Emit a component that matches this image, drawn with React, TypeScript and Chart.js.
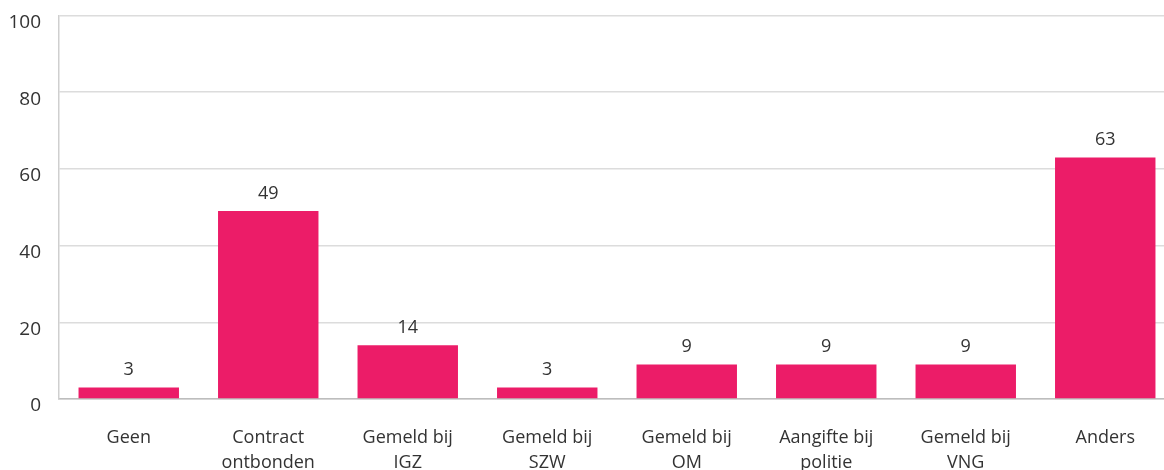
import React, { useEffect, useRef } from "react";
import { Chart, registerables } from "chart.js";

Chart.register(...registerables);

const categories: string[][] = [
  ["Geen"],
  ["Contract", "ontbonden"],
  ["Gemeld bij", "IGZ"],
  ["Gemeld bij", "SZW"],
  ["Gemeld bij", "OM"],
  ["Aangifte bij", "politie"],
  ["Gemeld bij", "VNG"],
  ["Anders"],
];
const values: number[] = [3, 49, 14, 3, 9, 9, 9, 63];
const yMin = 0;
const yMax = 100;
const yStep = 20;

const BAR_COLOR = "#ec1c68";
const TEXT_COLOR = "#333333";
const FONT_FAMILY = "'Open Sans', 'Noto Sans', sans-serif";

const valueLabelPlugin = {
  id: "valueLabels",
  afterDatasetsDraw(chart: any) {
    const ctx = chart.ctx;
    const meta = chart.getDatasetMeta(0);
    ctx.save();
    ctx.fillStyle = TEXT_COLOR;
    ctx.font = `18px ${FONT_FAMILY}`;
    ctx.textAlign = "center";
    ctx.textBaseline = "alphabetic";
    meta.data.forEach((bar: any, i: number) => {
      ctx.fillText(String(values[i]), bar.x, bar.y - 12);
    });
    ctx.restore();
  },
};

export default function App() {
  const ref = useRef<HTMLCanvasElement | null>(null);

  useEffect(() => {
    if (!ref.current) return;
    const chart = new Chart(ref.current, {
      type: "bar",
      data: {
        labels: categories,
        datasets: [
          {
            data: values,
            backgroundColor: BAR_COLOR,
            borderWidth: 0,
            categoryPercentage: 0.8,
            barPercentage: 0.9,
          },
        ],
      },
      options: {
        animation: false,
        responsive: false,
        maintainAspectRatio: false,
        layout: { padding: 0 },
        plugins: {
          legend: { display: false },
          tooltip: { enabled: false },
        },
        scales: {
          x: {
            grid: { display: false, drawTicks: false },
            border: { display: true, color: "#bdbdbd", width: 1.5 },
            ticks: {
              color: TEXT_COLOR,
              font: { family: FONT_FAMILY, size: 18, lineHeight: 1.42 },
              padding: 26,
              maxRotation: 0,
              autoSkip: false,
            },
            afterFit: (scale: any) => {
              scale.height = 75;
              scale.paddingLeft = 0;
              scale.paddingRight = 0;
            },
          },
          y: {
            min: yMin,
            max: yMax,
            grid: { color: "#dcdcdc", lineWidth: 1.5, drawTicks: false },
            border: { display: true, color: "#cfcfcf", width: 1.5 },
            ticks: {
              stepSize: yStep,
              color: TEXT_COLOR,
              font: { family: FONT_FAMILY, size: 19 },
              padding: 18,
              labelOffset: 7,
            },
            afterFit: (scale: any) => {
              scale.width = 51;
              scale.paddingTop = 7.5;
              scale.paddingBottom = 0;
            },
          },
        },
      },
      plugins: [valueLabelPlugin],
    });
    return () => chart.destroy();
  }, []);

  return (
    <div
      style={{
        position: "fixed",
        left: 0,
        top: 0,
        width: "100vw",
        height: "100vh",
        overflow: "hidden",
        background: "#ffffff",
      }}
    >
      <canvas
        ref={ref}
        width={1167}
        height={466}
        style={{ position: "absolute", left: 8, top: 8, width: 1167, height: 466 }}
      />
    </div>
  );
}
